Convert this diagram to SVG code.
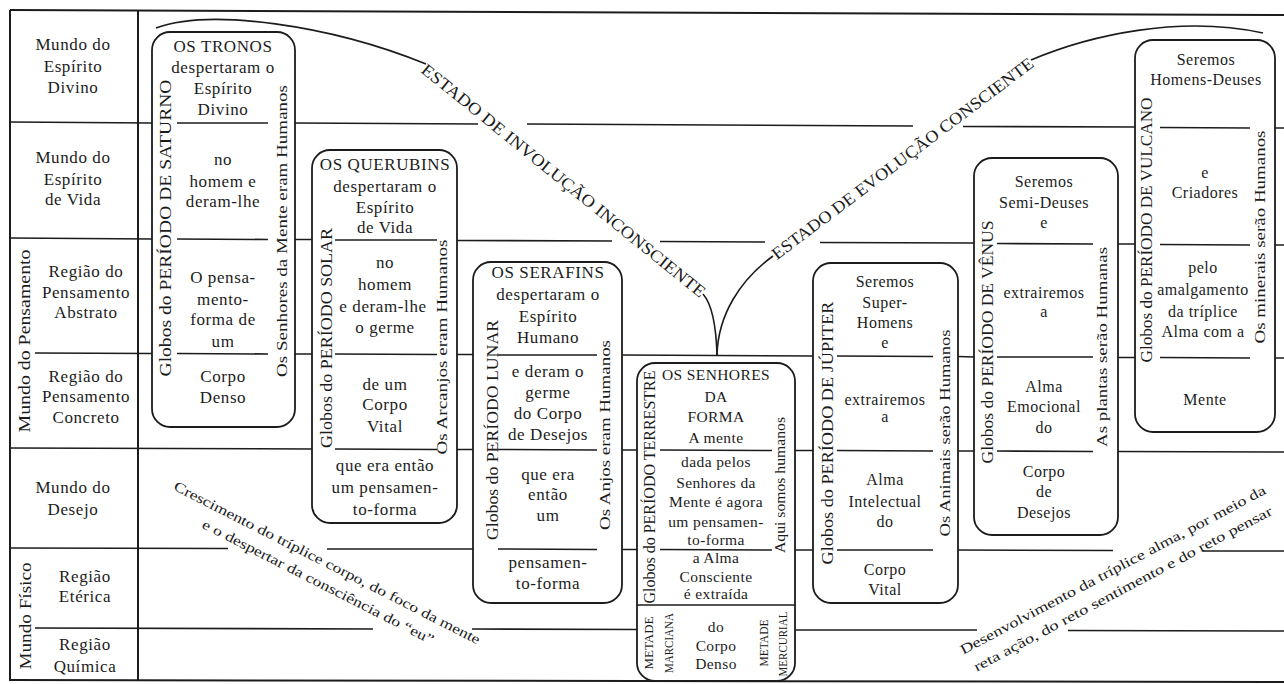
<svg xmlns="http://www.w3.org/2000/svg" width="1284" height="684" viewBox="0 0 1284 684">
<style>
.t{font-family:"Liberation Serif","DejaVu Serif",serif;font-size:17px;letter-spacing:0.6px;fill:#1c1c1c;text-anchor:middle}
.s{font-size:16px;letter-spacing:0.5px}
.x{font-size:15.5px;letter-spacing:0.4px}
.v{font-size:16px;letter-spacing:0}
.r{font-size:15px;letter-spacing:0}
.m{font-size:12px;letter-spacing:0}
.d{font-size:17px;letter-spacing:0}
.b{font-size:14px;letter-spacing:0}
.ln{stroke:#1c1c1c;stroke-width:1.6;fill:none}
.bx{stroke:#1c1c1c;stroke-width:1.8;fill:none}
.fr{stroke:#1c1c1c;stroke-width:2;fill:none}
</style>
<rect width="1284" height="684" fill="#fff"/>
<g id="frame">
<path class="fr" d="M10,10 L1284,15" stroke-width="3"/>
<path class="fr" d="M10,10 L10,681"/>
<path class="fr" d="M138,10 L138,681"/>
<path class="fr" d="M10,680 L1284,682"/>
</g>
<g id="grid" class="ln">
<path d="M10,122 L152,123 M295,123 L478,124 M527,124 L913,126 M963,126.5 L1135,127 M1275,128 L1284,128"/>
<path d="M10,238 L152,239 M295,239.5 L312,239.5 M457,240.5 L612,241 M660,241.5 L765,242 M820,242.5 L974,243 M1118,244 L1135,244 M1275,245 L1284,245"/>
<path d="M35,353 L152,353.5 M295,354 L312,354 M457,354.5 L473,354.5 M622,355 L813,356 M958,356.5 L974,357 M1118,357.5 L1135,357.5 M1275,358 L1284,358"/>
<path d="M10,448 L312,449 M457,449.5 L473,449.5 M622,450 L637,450 M795,450.5 L813,450.5 M958,451 L974,451 M1118,451.5 L1284,452"/>
<path d="M10,548 L228,548.5 M327,549 L473,549 M622,549.5 L637,549.5 M795,550 L813,550 M958,550 L1113,550.5 M1203,551 L1284,551"/>
<path d="M35,628 L373,629 M472,629 L637,629.5 M795,630 L977,630 M1068,630.5 L1284,631"/>
</g>
<g id="planos" class="t">
<text x="73" y="50">Mundo do</text><text x="73" y="72">Espírito</text><text x="73" y="93">Divino</text>
<text x="73" y="163">Mundo do</text><text x="73" y="185">Espírito</text><text x="73" y="205">de Vida</text>
<text x="86" y="277">Região do</text><text x="86" y="298">Pensamento</text><text x="86" y="318">Abstrato</text>
<text x="86" y="382">Região do</text><text x="86" y="402">Pensamento</text><text x="86" y="423">Concreto</text>
<text x="73" y="493">Mundo do</text><text x="73" y="515">Desejo</text>
<text x="85" y="582">Região</text><text x="85" y="602">Etérica</text>
<text x="85" y="650">Região</text><text x="85" y="672">Química</text>
<text class="v" transform="translate(30,341) rotate(-90)" textLength="183" lengthAdjust="spacingAndGlyphs">Mundo do Pensamento</text>
<text class="v" transform="translate(31,616) rotate(-90)" textLength="107" lengthAdjust="spacingAndGlyphs">Mundo Físico</text>
</g>
<g id="saturno" class="t">
<rect class="bx" x="152" y="32" width="143" height="395" rx="18"/>
<path class="ln" d="M177,123 L268,123 M177,239 L268,239.5 M177,353.5 L268,354"/>
<text x="223" y="52">OS TRONOS</text><text x="223" y="73">despertaram o</text><text x="223" y="94">Espírito</text><text x="223" y="115">Divino</text>
<text x="223" y="165">no</text><text x="223" y="187">homem e</text><text x="223" y="207">deram-lhe</text>
<text x="223" y="283">O pensa-</text><text x="223" y="305">mento-</text><text x="223" y="325">forma de</text><text x="223" y="347">um</text>
<text x="223" y="382">Corpo</text><text x="223" y="403">Denso</text>
<text class="v" transform="translate(171,228) rotate(-90)" textLength="297" lengthAdjust="spacingAndGlyphs">Globos do PERÍODO DE SATURNO</text>
<text class="r" transform="translate(287,231) rotate(-90)" textLength="292" lengthAdjust="spacingAndGlyphs">Os Senhores da Mente eram Humanos</text>
</g>
<g id="solar" class="t">
<rect class="bx" x="312" y="150" width="145" height="373" rx="18"/>
<path class="ln" d="M335,240 L437,240 M335,354 L437,354.5 M335,449 L437,449.5"/>
<text x="385" y="170">OS QUERUBINS</text><text x="385" y="192">despertaram o</text><text x="385" y="213">Espírito</text><text x="385" y="233">de Vida</text>
<text x="385" y="268">no</text><text x="385" y="290">homem</text><text x="383" y="312">e deram-lhe</text><text x="385" y="333">o germe</text>
<text x="385" y="390">de um</text><text x="385" y="410">Corpo</text><text x="385" y="432">Vital</text>
<text x="385" y="471">que era então</text><text x="385" y="493">um pensamen-</text><text x="385" y="515">to-forma</text>
<text class="v" transform="translate(332,338) rotate(-90)" textLength="220" lengthAdjust="spacingAndGlyphs">Globos do PERÍODO SOLAR</text>
<text class="r" transform="translate(447,347) rotate(-90)" textLength="215" lengthAdjust="spacingAndGlyphs">Os Arcanjos eram Humanos</text>
</g>
<g id="lunar" class="t">
<rect class="bx" x="473" y="262" width="149" height="341" rx="18"/>
<path class="ln" d="M498,355 L597,355 M498,449.5 L597,450 M498,549 L597,549.5"/>
<text x="548" y="278">OS SERAFINS</text><text x="548" y="300">despertaram o</text><text x="548" y="322">Espírito</text><text x="548" y="343">Humano</text>
<text x="548" y="377">e deram o</text><text x="548" y="398">germe</text><text x="548" y="419">do Corpo</text><text x="548" y="440">de Desejos</text>
<text x="548" y="480">que era</text><text x="548" y="500">então</text><text x="548" y="521">um</text>
<text x="548" y="568">pensamen-</text><text x="548" y="589">to-forma</text>
<text class="v" transform="translate(498,430) rotate(-90)" textLength="220" lengthAdjust="spacingAndGlyphs">Globos do PERÍODO LUNAR</text>
<text class="r" transform="translate(610,435) rotate(-90)" textLength="190" lengthAdjust="spacingAndGlyphs">Os Anjos eram Humanos</text>
</g>
<g id="terrestre" class="t">
<rect class="bx" x="637" y="363" width="158" height="318" rx="18"/>
<path class="ln" d="M660,450 L772,450.5 M660,549.5 L772,550 M637,605 L795,605"/>
<g class="x">
<text x="716" y="380">OS SENHORES</text><text x="716" y="402">DA</text><text x="716" y="422">FORMA</text><text x="716" y="443">A mente</text>
<text x="716" y="467">dada pelos</text><text x="716" y="488">Senhores da</text><text x="716" y="507">Mente é agora</text><text x="716" y="527">um pensamen-</text><text x="716" y="545">to-forma</text>
<text x="716" y="563">a Alma</text><text x="716" y="582">Consciente</text><text x="716" y="599">é extraída</text>
<text x="716" y="632">do</text><text x="716" y="651">Corpo</text><text x="716" y="669">Denso</text>
</g>
<text class="v" transform="translate(655,487) rotate(-90)" textLength="233" lengthAdjust="spacingAndGlyphs">Globos do PERÍODO TERRESTRE</text>
<text class="b" transform="translate(785,485) rotate(-90)" textLength="136" lengthAdjust="spacingAndGlyphs">Aqui somos humanos</text>
<text class="m" transform="translate(653,643) rotate(-90)" textLength="53" lengthAdjust="spacingAndGlyphs">METADE</text>
<text class="m" transform="translate(673,643) rotate(-90)" textLength="60" lengthAdjust="spacingAndGlyphs">MARCIANA</text>
<text class="m" transform="translate(768,643) rotate(-90)" textLength="47" lengthAdjust="spacingAndGlyphs">METADE</text>
<text class="m" transform="translate(787,644) rotate(-90)" textLength="65" lengthAdjust="spacingAndGlyphs">MERCURIAL</text>
</g>
<g id="jupiter" class="t">
<rect class="bx" x="813" y="263" width="145" height="340" rx="18"/>
<path class="ln" d="M837,356 L933,356.5 M837,450.5 L933,451 M837,550 L933,550"/>
<g class="s">
<text x="885" y="287">Seremos</text><text x="885" y="308">Super-</text><text x="885" y="328">Homens</text><text x="885" y="348">e</text>
<text x="885" y="405">extrairemos</text><text x="885" y="422">a</text>
<text x="885" y="485">Alma</text><text x="885" y="507">Intelectual</text><text x="885" y="527">do</text>
<text x="885" y="575">Corpo</text><text x="885" y="595">Vital</text>
</g>
<text class="v" transform="translate(833,433) rotate(-90)" textLength="263" lengthAdjust="spacingAndGlyphs">Globos do PERÍODO DE JÚPITER</text>
<text class="r" transform="translate(950,433) rotate(-90)" textLength="207" lengthAdjust="spacingAndGlyphs">Os Animais serão Humanos</text>
</g>
<g id="venus" class="t">
<rect class="bx" x="974" y="158" width="144" height="377" rx="18"/>
<path class="ln" d="M997,243.5 L1093,244 M997,357 L1093,357 M997,451 L1093,451.5"/>
<g class="s">
<text x="1044" y="187">Seremos</text><text x="1044" y="208">Semi-Deuses</text><text x="1044" y="228">e</text>
<text x="1044" y="298">extrairemos</text><text x="1044" y="317">a</text>
<text x="1044" y="392">Alma</text><text x="1044" y="412">Emocional</text><text x="1044" y="433">do</text>
<text x="1044" y="477">Corpo</text><text x="1044" y="497">de</text><text x="1044" y="518">Desejos</text>
</g>
<text class="v" transform="translate(993,342) rotate(-90)" textLength="243" lengthAdjust="spacingAndGlyphs">Globos do PERÍODO DE VÊNUS</text>
<text class="r" transform="translate(1107,347) rotate(-90)" textLength="200" lengthAdjust="spacingAndGlyphs">As plantas serão Humanas</text>
</g>
<g id="vulcano" class="t">
<rect class="bx" x="1135" y="40" width="140" height="392" rx="18"/>
<path class="ln" d="M1160,127.5 L1250,128 M1160,244.5 L1250,245 M1160,357.5 L1250,358"/>
<g class="s">
<text x="1206" y="65">Seremos</text><text x="1206" y="85">Homens-Deuses</text>
<text x="1205" y="178">e</text><text x="1205" y="198">Criadores</text>
<text x="1203" y="273">pelo</text><text x="1203" y="295">amalgamento</text><text x="1203" y="317">da tríplice</text><text x="1203" y="337">Alma com a</text>
<text x="1205" y="405">Mente</text>
</g>
<text class="v" transform="translate(1152,230) rotate(-90)" textLength="265" lengthAdjust="spacingAndGlyphs">Globos do PERÍODO DE VULCANO</text>
<text class="r" transform="translate(1265,237) rotate(-90)" textLength="213" lengthAdjust="spacingAndGlyphs">Os minerais serão Humanos</text>
</g>
<g id="connectors" class="ln">
<path d="M156,28 C210,8 330,25 426,64"/>
<path d="M703,294 C710,302 716,320 717,355"/>
<path d="M717,355 C718,315 740,280 773,256"/>
<path d="M1031,60 C1090,35 1180,15 1263,33"/>
</g>
<g id="estados" class="t">
<text class="d" transform="translate(560,185) rotate(39)" textLength="360" lengthAdjust="spacingAndGlyphs">ESTADO DE INVOLUÇÃO INCONSCIENTE</text>
<text class="d" transform="translate(906,163) rotate(-37)" textLength="323" lengthAdjust="spacingAndGlyphs">ESTADO DE EVOLUÇÃO CONSCIENTE</text>
<text class="b" transform="translate(325,567) rotate(27)" textLength="342" lengthAdjust="spacingAndGlyphs">Crescimento do tríplice corpo, do foco da mente</text>
<text class="b" transform="translate(316,586) rotate(27)" textLength="258" lengthAdjust="spacingAndGlyphs">e o despertar da consciência do “eu”</text>
<text class="b" transform="translate(1115,574) rotate(-28)" textLength="344" lengthAdjust="spacingAndGlyphs">Desenvolvimento da tríplice alma, por meio da</text>
<text class="b" transform="translate(1125,593) rotate(-28)" textLength="336" lengthAdjust="spacingAndGlyphs">reta ação, do reto sentimento e do reto pensar</text>
</g>
</svg>
